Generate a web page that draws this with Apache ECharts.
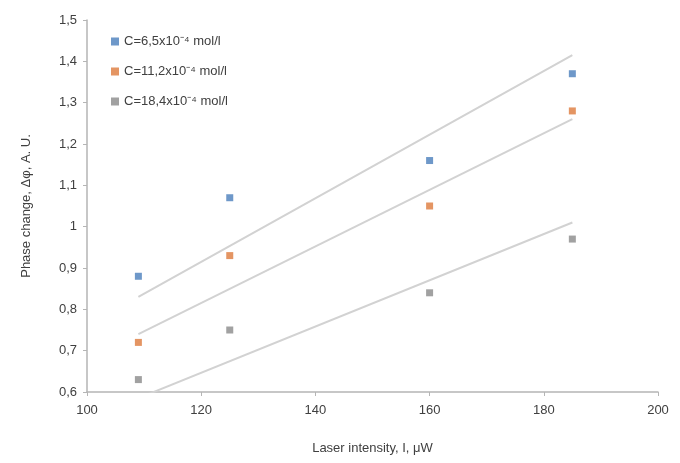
<!DOCTYPE html>
<html><head><meta charset="utf-8">
<script src="https://cdn.jsdelivr.net/npm/echarts@6/dist/echarts.min.js"></script>
<style>html,body{margin:0;padding:0;background:#fff}#c{width:680px;height:463px}</style>
</head><body><div id="c"></div>
<script>
const intensity = [109, 125, 160, 185];
const seriesNames = ['C=6,5x10\u207B\u2074 mol/l', 'C=11,2x10\u207B\u2074 mol/l', 'C=18,4x10\u207B\u2074 mol/l'];
const phaseLow = [0.88, 1.07, 1.16, 1.37];
const phaseMid = [0.72, 0.93, 1.05, 1.28];
const phaseHigh = [0.63, 0.75, 0.84, 0.97];
const trendX = [109, 185];
const trendLow = [0.83, 1.415];
const trendMid = [0.74, 1.26];
const trendHigh = [0.585, 1.01];
const colors = ['#4a7ebb', '#dd7a3c', '#8a8a8a'];

const pts = (ys) => intensity.map((x, i) => [x, ys[i]]);
const tr = (ys) => trendX.map((x, i) => [x, ys[i]]);
const fmt = v => String(Math.round(v * 10) / 10).replace('.', ',');

const chart = echarts.init(document.getElementById('c'));
const trendStyle = { color: '#d2d2d2', width: 2 };
chart.setOption({
  animation: false,
  textStyle: { fontFamily: 'Liberation Sans, Arial, sans-serif' },
  grid: { left: 87, right: 22, top: 20, bottom: 71 },
  legend: {
    data: seriesNames,
    orient: 'vertical', left: 106, top: 30, itemGap: 17,
    itemWidth: 8, itemHeight: 8,
    textStyle: { color: '#404040', fontSize: 13 }
  },
  xAxis: {
    type: 'value', min: 100, max: 200, interval: 20,
    name: 'Laser intensity, I, \u03BCW', nameLocation: 'middle', nameGap: 50,
    nameTextStyle: { color: '#404040', fontSize: 13 },
    axisLine: { lineStyle: { color: '#b5b5b5', width: 1.5 } },
    axisTick: { show: true, length: 4, lineStyle: { color: '#b5b5b5' } },
    axisLabel: { color: '#404040', fontSize: 13, margin: 12 },
    splitLine: { show: false }
  },
  yAxis: {
    type: 'value', min: 0.6, max: 1.5, interval: 0.1,
    name: 'Phase change, \u0394\u03C6, A. U.', nameLocation: 'middle', nameGap: 54,
    nameTextStyle: { color: '#404040', fontSize: 13 },
    axisLine: { show: true, lineStyle: { color: '#b5b5b5', width: 1.5 } },
    axisTick: { show: true, length: 4, lineStyle: { color: '#b5b5b5' } },
    axisLabel: { color: '#404040', fontSize: 13, margin: 10, formatter: fmt },
    splitLine: { show: false }
  },
  series: [
    { type: 'line', data: tr(trendLow), symbol: 'none', lineStyle: trendStyle, silent: true, z: 1 },
    { type: 'line', data: tr(trendMid), symbol: 'none', lineStyle: trendStyle, silent: true, z: 1 },
    { type: 'line', data: tr(trendHigh), symbol: 'none', lineStyle: trendStyle, silent: true, z: 1, clip: true },
    { name: seriesNames[0], type: 'scatter', data: pts(phaseLow), symbol: 'rect', symbolSize: 7, itemStyle: { color: colors[0] }, z: 3 },
    { name: seriesNames[1], type: 'scatter', data: pts(phaseMid), symbol: 'rect', symbolSize: 7, itemStyle: { color: colors[1] }, z: 3 },
    { name: seriesNames[2], type: 'scatter', data: pts(phaseHigh), symbol: 'rect', symbolSize: 7, itemStyle: { color: colors[2] }, z: 3 }
  ]
});
</script></body></html>
